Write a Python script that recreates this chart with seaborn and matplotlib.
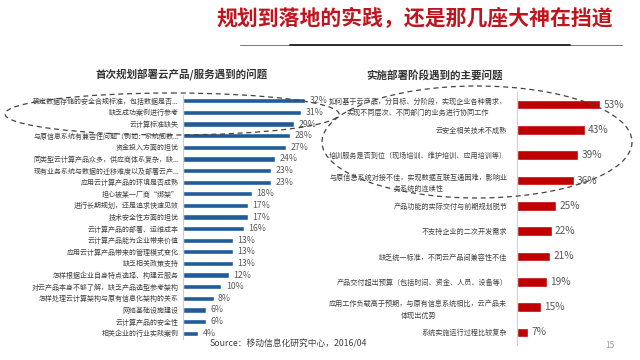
import matplotlib
matplotlib.use("Agg")
import matplotlib.pyplot as plt
import seaborn as sns
import pandas as pd
from matplotlib.patches import Ellipse

sns.set_theme(style="white")
plt.rcParams['font.family'] = ['Noto Sans CJK SC', 'DejaVu Sans']

title = "规划到落地的实践，还是那几座大神在挡道"
left_title = "首次规划部署云产品/服务遇到的问题"
right_title = "实施部署阶段遇到的主要问题"
source = "Source：移动信息化研究中心，2016/04"

left_labels = [
    "确定数据存储的安全合规标准，包括数据是否...",
    "缺乏成功案例进行参考",
    "云计算标准缺失",
    "与原信息系统有兼容性问题（例如：系统间数...",
    "资金投入方面的担忧",
    "同类型云计算产品众多，供应商体系复杂，缺...",
    "现有业务系统与数据的迁移难度以及部署云产...",
    "应用云计算产品的环境是否成熟",
    "担心被某一厂商“绑架”",
    "进行长期规划，还是追求快速见效",
    "技术安全性方面的担忧",
    "云计算产品的部署、运维成本",
    "云计算产品能为企业带来价值",
    "应用云计算产品带来的管理模式变化",
    "缺乏相关政策支持",
    "怎样根据企业自身特点选择、构建云服务",
    "对云产品本身不够了解，缺乏产品选型参考架构",
    "怎样处理云计算架构与原有信息化架构的关系",
    "网络基础设施建设",
    "云计算产品的安全性",
    "相关企业的行业实践案例",
]
left_values = [32, 31, 29, 28, 27, 24, 23, 23, 18, 17, 17, 16, 13, 13, 13, 12, 10, 8, 6, 6, 4]

right_labels = [
    "如何基于云产品，分目标、分阶段，实现企业各种需求，\n实现不同层次、不同部门的业务进行协同工作",
    "云安全相关技术不成熟",
    "培训服务是否到位（现场培训、维护培训、应用培训等）",
    "与原信息系统对接不佳，实现数据互联互通困难，影响业\n务系统的连续性",
    "产品功能的实际交付与前期规划脱节",
    "不支持企业的二次开发需求",
    "缺乏统一标准，不同云产品间兼容性不佳",
    "产品交付超出预算（包括时间、资金、人员、设备等）",
    "应用工作负载高于预期，与原有信息系统相比，云产品未\n体现出优势",
    "系统实施运行过程比较复杂",
]
right_values = [53, 43, 39, 36, 25, 22, 21, 19, 15, 7]

W, H = 640, 360
fig = plt.figure(figsize=(6.4, 3.6), dpi=100)
fig.patch.set_facecolor("white")

def ax_rect(x0, y0, x1, y1):
    return [x0 / W, 1 - y1 / H, (x1 - x0) / W, (y1 - y0) / H]

# Left chart
axL = fig.add_axes(ax_rect(183, 95, 328, 339))
dfL = pd.DataFrame({"label": left_labels, "value": left_values})
sns.barplot(data=dfL, x="value", y="label", orient="h", color="#1f5c99",
            width=0.45, ax=axL, saturation=1)
axL.set_xlim(0, 38)
axL.set_ylim(len(left_labels) - 0.5, -0.5)
for i, v in enumerate(left_values):
    axL.text(v + 1.2, i, f"{v}%", va="center", ha="left", fontsize=6.3, color="#595959")
axL.set_xlabel("")
axL.set_ylabel("")
axL.set_xticks([])
axL.tick_params(axis="y", length=0, pad=3, labelsize=5.0, labelcolor="#404040")
for s in ["top", "right", "bottom"]:
    axL.spines[s].set_visible(False)
axL.spines["left"].set_color("#d0d0d0")
axL.spines["left"].set_linewidth(0.8)

# Right chart
axR = fig.add_axes(ax_rect(517, 92, 627, 345))
dfR = pd.DataFrame({"label": right_labels, "value": right_values})
sns.barplot(data=dfR, x="value", y="label", orient="h", color="#c00000",
            width=0.38, ax=axR, saturation=1)
axR.set_xlim(0, 70)
axR.set_ylim(len(right_labels) - 0.5, -0.5)
for i, v in enumerate(right_values):
    axR.text(v + 2.2, i, f"{v}%", va="center", ha="left", fontsize=7.3, color="#595959")
axR.set_xlabel("")
axR.set_ylabel("")
axR.set_xticks([])
axR.tick_params(axis="y", length=0, pad=7, labelsize=5.1, labelcolor="#404040")
for lbl in axR.get_yticklabels():
    lbl.set_horizontalalignment("right")
    lbl.set_multialignment("center")
    lbl.set_linespacing(1.6)
for s in ["top", "right", "bottom"]:
    axR.spines[s].set_visible(False)
axR.spines["left"].set_color("#d0d0d0")
axR.spines["left"].set_linewidth(0.8)

# Overlay for titles and decorations (pixel coordinates)
ov = fig.add_axes([0, 0, 1, 1], zorder=5)
ov.set_xlim(0, W)
ov.set_ylim(H, 0)
ov.axis("off")
ov.patch.set_alpha(0)

ov.text(415, 19, title, ha="center", va="center", fontsize=15, fontweight="bold",
        color="#c0151f")
ov.plot([240, 622], [45, 45], color="#777777", lw=0.7, solid_capstyle="round")
ov.plot([290, 570], [45.3, 45.3], color="#222222", lw=1.3, solid_capstyle="round")

ov.text(182, 75, left_title, ha="center", va="center", fontsize=7.6, fontweight="bold",
        color="#333333")
ov.text(435, 75, right_title, ha="center", va="center", fontsize=7.6, fontweight="bold",
        color="#333333")

ov.add_patch(Ellipse((172, 114), 334, 42, fill=False, ls=(0, (4, 3)), lw=0.9,
                     ec="#444444"))
ov.add_patch(Ellipse((477, 142), 310, 112, fill=False, ls=(0, (4, 3)), lw=0.9,
                     ec="#444444"))

ov.text(210, 344, source, ha="left", va="center", fontsize=6.3, color="#404040")
ov.text(610, 346, "15", ha="center", va="center", fontsize=6, color="#999999")

fig.savefig("out.png", dpi=100, facecolor="white")
